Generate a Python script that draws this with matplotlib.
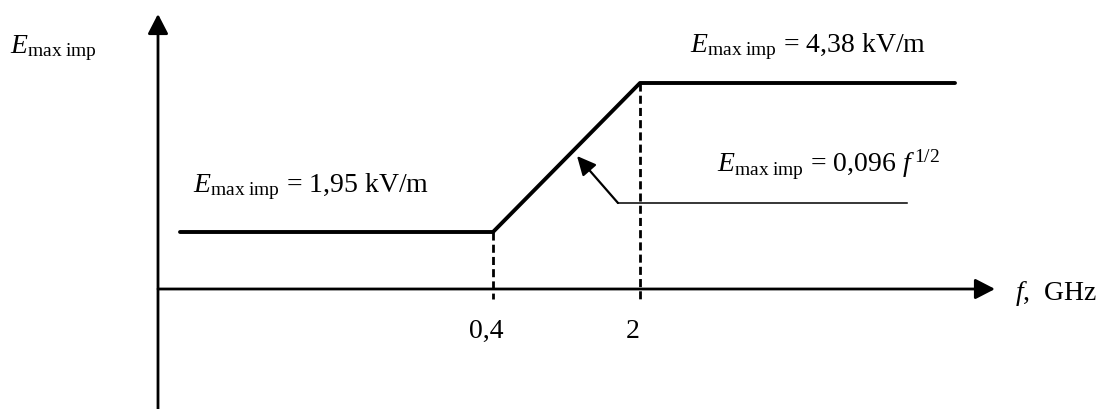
import matplotlib.pyplot as plt

# Times-like look for all the text, E and f italic
plt.rcParams['font.family'] = 'Liberation Serif'
plt.rcParams['mathtext.fontset'] = 'custom'
plt.rcParams['mathtext.rm'] = 'Liberation Serif'
plt.rcParams['mathtext.it'] = 'Liberation Serif:italic'

# schematic diagram (not to scale), origin where the two axes cross
f_tick_labels = ['0,4', '2']
f_tick_pos = [3.35, 4.82]
curve_x = [0.22, 3.35, 4.82, 7.97]
curve_y = [0.57, 0.57, 2.06, 2.06]
level_labels = ['1,95', '4,38']
slope_coef = '0,096'

fig = plt.figure(figsize=(11.1, 4.1), dpi=100)
ax = fig.add_axes([0, 0, 1, 1])
ax.set_xlim(-1.58, 9.52)
ax.set_ylim(-1.20, 2.90)
ax.axis('off')

arrow_kw = dict(arrowstyle='-|>,head_length=1.2,head_width=0.62', lw=2.0,
                color='k', shrinkA=0, shrinkB=0)
# axes with arrow heads
ax.annotate('', xy=(8.37, 0), xytext=(0, 0), arrowprops=arrow_kw)
ax.annotate('', xy=(0, 2.75), xytext=(0, -1.20), arrowprops=arrow_kw)

# E_max imp limit curve
ax.plot(curve_x, curve_y, color='k', lw=2.8, solid_capstyle='round')

# dashed guides down to the f axis
for x, y in zip(curve_x[1:3], curve_y[1:3]):
    ax.plot([x, x], [y, -0.10], color='k', lw=2.0, ls=(0, (2.9, 1.5)))

fs = 20
for x, lab in zip(f_tick_pos, f_tick_labels):
    ax.text(x - 0.07, -0.48, lab, ha='center', va='baseline', fontsize=fs)

sub = r'$E_{\mathrm{max\ imp}}$'
ax.text(-1.48, 2.37, sub, fontsize=fs, va='baseline')
ax.text(8.57, -0.10, r'$f$,  GHz', fontsize=fs, va='baseline')
ax.text(0.35, 0.98, sub + ' = ' + level_labels[0] + ' kV/m', fontsize=fs, va='baseline')
ax.text(5.32, 2.38, sub + ' = ' + level_labels[1] + ' kV/m', fontsize=fs, va='baseline')
ax.text(5.59, 1.18, sub + ' = ' + slope_coef + r' $f^{\,1/2}$', fontsize=fs, va='baseline')

# leader pointing at the sloped part
ax.plot([4.60, 7.49], [0.86, 0.86], color='k', lw=1.1)
ax.annotate('', xy=(4.19, 1.33), xytext=(4.60, 0.86),
            arrowprops=dict(arrowstyle='-|>,head_length=1.15,head_width=0.55',
                            lw=1.6, color='k', shrinkA=0, shrinkB=0))

fig.savefig('out.png', dpi=100)
